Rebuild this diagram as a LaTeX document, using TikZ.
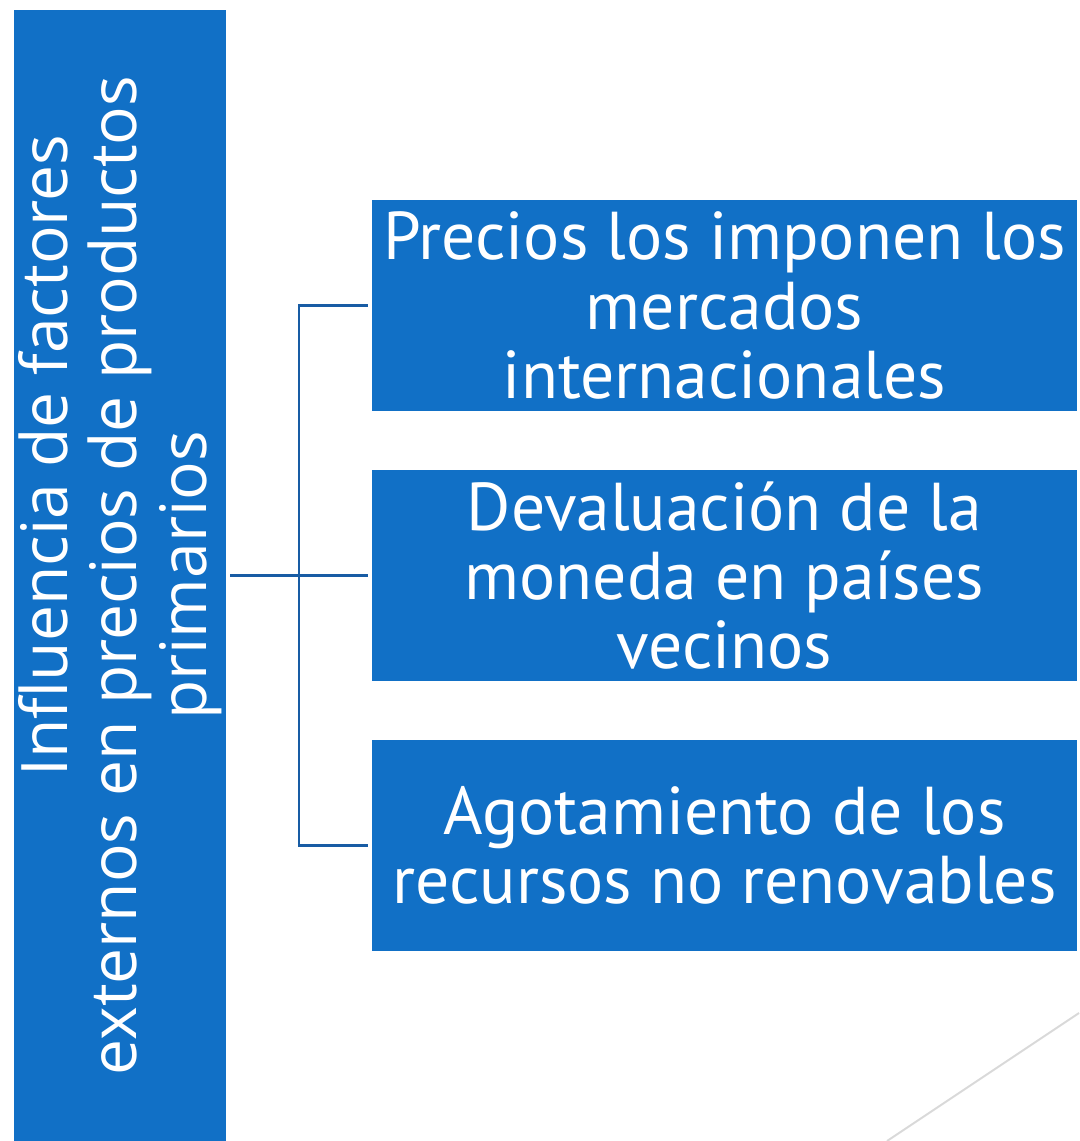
\documentclass[tikz,border=0pt]{standalone}
\usepackage{fontspec}
\setmainfont{PT Sans}
\newfontfamily\sidefont{Open Sans}
\definecolor{boxblue}{RGB}{17,112,198}
\definecolor{linkblue}{RGB}{24,92,164}
\usetikzlibrary{positioning}

\begin{document}
\begin{tikzpicture}[
    x=0.02cm, y=-0.02cm,
    box/.style={
        rectangle,
        fill=boxblue,
        text=white,
        align=center,
        inner sep=0pt
    },
    factor/.style={box, minimum width=14.1cm, minimum height=4.22cm,
        font=\fontsize{38.5}{39.5}\selectfont},
    topic/.style={box, rotate=90, minimum width=22.62cm, minimum height=4.24cm,
        font=\sidefont\fontsize{36.5}{39.5}\selectfont},
    link/.style={draw=linkblue, line width=1.7pt, shorten <=0.08cm, shorten >=0.08cm},
    deco/.style={draw=black!15, line width=1.1pt}
]
\useasboundingbox (0,0) rectangle (1079,1141);

% Topic
\node[topic] (topic) at (120,575.5) {\hspace*{4.8cm}Influencia de factores\\externos en precios de productos\\primarios};

% Factors
\node[factor] (precios) at (724.5,305.5) {Precios los imponen los\\mercados\\internacionales};
\node[factor] (devaluacion) at (724.5,575.5) {Devaluación de la\\moneda en países\\vecinos};
\node[factor] (agotamiento) at (724.5,845.5) {Agotamiento de los\\recursos no renovables};

% Connectors
\coordinate (fork) at (299,575.5);
\draw[link] (topic.south) -- (devaluacion.west);
\draw[link] (precios.west) -| (fork) |- (agotamiento.west);

% Slide decoration
\draw[deco] (887,1141) -- (1079,1013);

\end{tikzpicture}
\end{document}
